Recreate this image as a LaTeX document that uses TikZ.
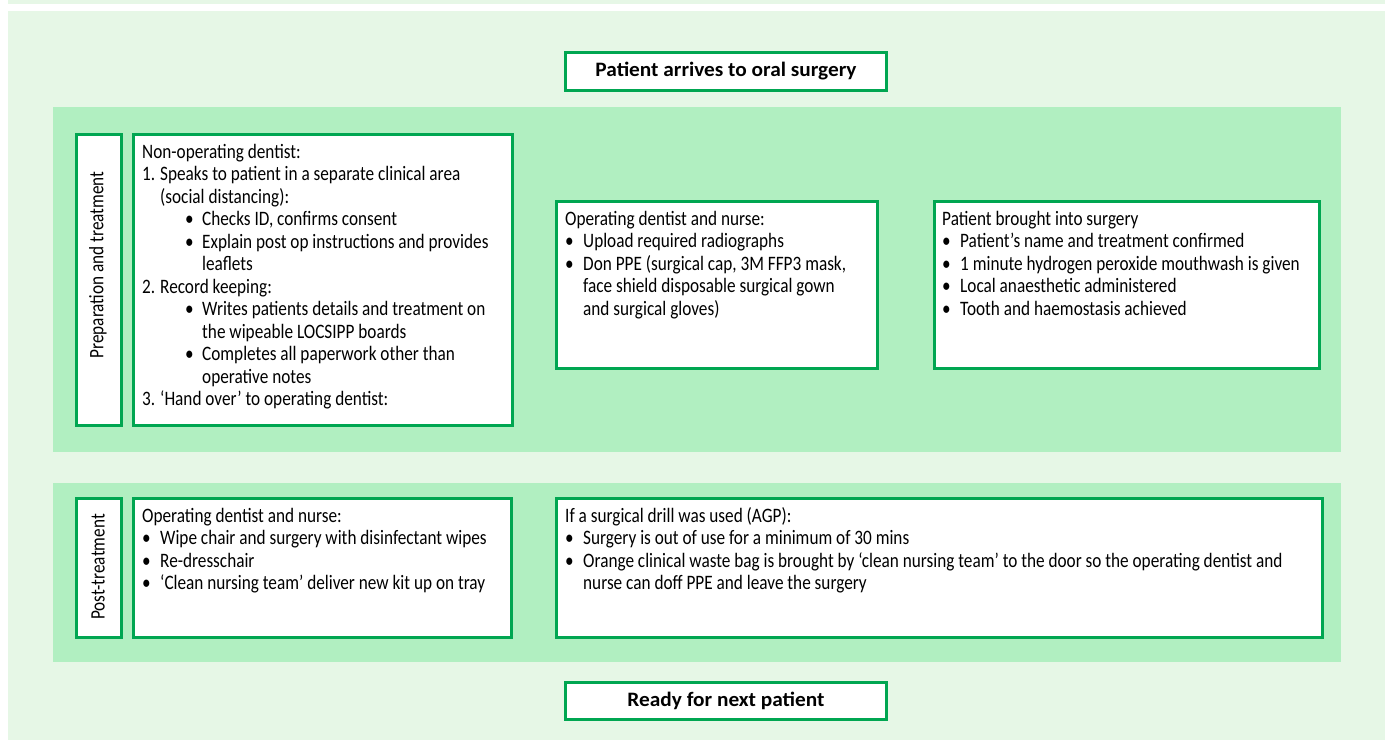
\documentclass[tikz,border=0pt]{standalone}
\usepackage{fontspec}
\setmainfont{Carlito}[FakeStretch=0.84]
\newfontfamily\headfont{Carlito}[FakeStretch=1.04]
\definecolor{pagebg}{HTML}{E6F7E6}
\definecolor{bandbg}{HTML}{B1EFC1}
\definecolor{edge}{HTML}{00A651}
\definecolor{ink}{HTML}{000000}
% list helpers
\newcommand\blt{\par\hangindent=18pt\hangafter=1\noindent\makebox[18pt][l]{\textbullet}}
\newcommand\num[1]{\par\hangindent=18pt\hangafter=1\noindent\makebox[18pt][l]{#1}}
\newcommand\subblt{\par\hangindent=60pt\hangafter=1\noindent\hspace*{43pt}\makebox[17pt][l]{\textbullet}}
\newcommand\txt[1]{\parbox[t]{800pt}{\raggedright\fontsize{20.5}{22.5}\selectfont #1}}
\begin{document}
\begin{tikzpicture}[x=1pt,y=-1pt,
  frame/.style={draw=edge,line width=2.6pt,fill=white},
  label/.style={text=ink,inner sep=0pt,anchor=base west},
  side/.style={text=ink,inner sep=0pt,rotate=90,font=\fontsize{20.5}{22.5}\selectfont},
  title/.style={text=ink,inner sep=0pt,font=\headfont\bfseries\fontsize{20.5}{22.5}\selectfont}]
\useasboundingbox (0,0) rectangle (1389,740);
\fill[white] (0,0) rectangle (1389,740);
% page panels
\fill[pagebg] (8,0) rectangle (1385,4);
\fill[pagebg] (8,11) rectangle (1385,740);
\fill[bandbg] (53,107) rectangle (1341,452);
\fill[bandbg] (53,483) rectangle (1341,662);
% boxes
\draw[frame] (565.3,52.3) rectangle (886.7,90.7) node[midway,title] (start) {Patient arrives to oral surgery};
\draw[frame] (565.3,682.3) rectangle (886.7,719.7) node[midway,title] (finish) {Ready for next patient};
\draw[frame] (76.3,134.3) rectangle (121.7,425.7);
\node[side] (sideprep) at (98,265) {Preparation and treatment};
\draw[frame] (133.3,134.3) rectangle (512.7,425.7);
\draw[frame] (556.3,201.3) rectangle (877.7,368.7);
\draw[frame] (934.3,201.3) rectangle (1319.7,368.7);
\draw[frame] (76.3,498.3) rectangle (121.7,637.7);
\node[side] (sidepost) at (98,567) {Post-treatment};
\draw[frame] (133.3,498.3) rectangle (511.7,637.7);
\draw[frame] (556.3,498.3) rectangle (1322.7,637.7);
% texts
\node[label] (nonop) at (142,158) {\txt{Non-operating dentist:
\num{1.}Speaks to patient in a separate clinical area\newline (social distancing):
\subblt Checks ID, confirms consent
\subblt Explain post op instructions and provides\newline leaflets
\num{2.}Record keeping:
\subblt Writes patients details and treatment on\newline the wipeable LOCSIPP boards
\subblt Completes all paperwork other than\newline operative notes
\num{3.}‘Hand over’ to operating dentist:}};
\node[label] (opprep) at (565,225) {\txt{Operating dentist and nurse:
\blt Upload required radiographs
\blt Don PPE (surgical cap, 3M FFP3 mask,\newline face shield disposable surgical gown\newline and surgical gloves)}};
\node[label] (insurgery) at (942,225) {\txt{Patient brought into surgery
\blt Patient’s name and treatment confirmed
\blt 1 minute hydrogen peroxide mouthwash is given
\blt Local anaesthetic administered
\blt Tooth and haemostasis achieved}};
\node[label] (clean) at (142,522) {\txt{Operating dentist and nurse:
\blt Wipe chair and surgery with disinfectant wipes
\blt Re-dresschair
\blt ‘Clean nursing team’ deliver new kit up on tray}};
\node[label] (agp) at (565,522) {\txt{If a surgical drill was used (AGP):
\blt Surgery is out of use for a minimum of 30 mins
\blt Orange clinical waste bag is brought by ‘clean nursing team’ to the door so the operating dentist and\newline nurse can doff PPE and leave the surgery}};
\end{tikzpicture}
\end{document}
